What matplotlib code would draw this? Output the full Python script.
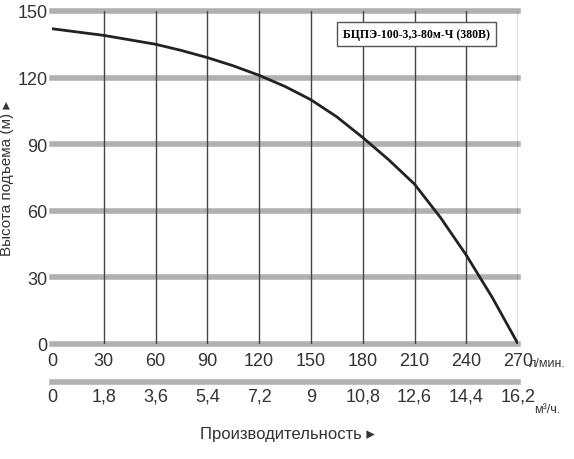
import matplotlib
matplotlib.use("Agg")
import matplotlib.pyplot as plt

flow = [0, 15, 30, 45, 60, 75, 90, 105, 120, 135, 150, 165, 180, 195, 210, 225, 240, 255, 270]
head = [142, 140.5, 139, 137, 135, 132.2, 129, 125.3, 121, 116, 110, 102.3, 93, 83, 72, 57, 40, 21, 0]
xticks_lmin = [0, 30, 60, 90, 120, 150, 180, 210, 240, 270]
xticks_m3h = ["0", "1,8", "3,6", "5,4", "7,2", "9", "10,8", "12,6", "14,4", "16,2"]
yticks = [0, 30, 60, 90, 120, 150]

plt.rcParams['font.family'] = ['Liberation Sans', 'DejaVu Sans']
fig = plt.figure(figsize=(5.74, 4.6), dpi=100)
ax = fig.add_axes([0.0906, 0.25, 0.812, 0.724])
ax.set_xlim(0, 270)
ax.set_ylim(0, 150)
for y in yticks:
    ax.axhline(y, color='#b0b0b0', lw=4, zorder=1, clip_on=False)
for x in xticks_lmin[1:]:
    ax.axvline(x, color='#444444', lw=1, zorder=1)
ax.plot(flow, head, color='#222222', lw=2, zorder=3)
for s in ax.spines.values():
    s.set_visible(False)
ax.set_yticks(yticks)
ax.set_xticks(xticks_lmin)
ax.tick_params(length=0, labelsize=13, colors='#333333')
ax.tick_params(axis='x', pad=6)
ax.tick_params(axis='y', pad=3)
ax.set_ylabel("Высота подъема (м) ▸", fontsize=11, color='#333333', labelpad=3)
ax.text(276, -8.5, "л/мин.", fontsize=9, color='#333333', va='center', ha='left', clip_on=False)
ax.text(0.94, 0.93, "БЦПЭ-100-3,3-80м-Ч (380В)", transform=ax.transAxes, ha='right', va='center',
        fontsize=8.5, fontweight='bold', family=['Liberation Serif'],
        bbox=dict(boxstyle='square,pad=0.5', fc='white', ec='#555555'))

sec = ax.secondary_xaxis(-0.115)
sec.set_xticks(xticks_lmin)
sec.set_xticklabels(xticks_m3h)
sec.tick_params(length=0, labelsize=13, colors='#333333', pad=4)
sec.spines['bottom'].set_color('#b0b0b0')
sec.spines['bottom'].set_linewidth(4)
ax.text(279, -29.5, "м³/ч.", fontsize=9, color='#333333', va='center', ha='left', clip_on=False)
fig.text(0.5, 0.045, "Производительность ▸", ha='center', fontsize=12, color='#333333')
fig.savefig("out.png", dpi=100)
